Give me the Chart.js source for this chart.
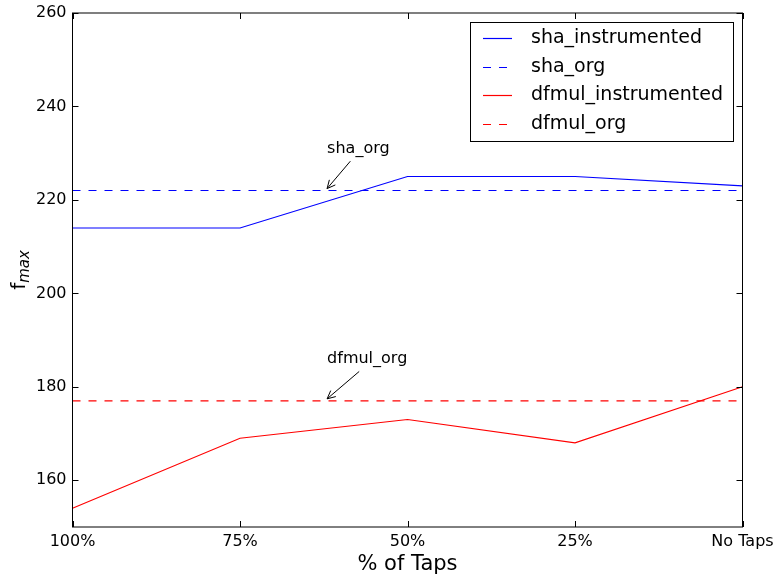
<!DOCTYPE html>
<html>
<head>
<meta charset="utf-8">
<script src="https://cdn.jsdelivr.net/npm/chart.js@4"></script>
<style>
  body { margin: 0; background: #fff; }
  #wrap { width: 775px; height: 576px; }
</style>
</head>
<body>
<div id="wrap"><canvas id="fmaxChart"></canvas></div>
<script>
const taps = ["100%", "75%", "50%", "25%", "No Taps"];
const shaInstrumented = [214, 214, 225, 225, 223];
const shaOrg = [222, 222, 222, 222, 222];
const dfmulInstrumented = [154, 169, 173, 168, 180];
const dfmulOrg = [177, 177, 177, 177, 177];
const yTicks = [160, 180, 200, 220, 240, 260];

const FONT = "'DejaVu Sans', sans-serif";

function points(values) {
    return values.map((v, i) => ({ x: i, y: v }));
}

// annotations: text position and arrow target, in data coordinates
const notes = [
    { text: "sha_org", tx: 1.52, ty: 230, ax: 1.52, ay: 222 },
    { text: "dfmul_org", tx: 1.52, ty: 185, ax: 1.52, ay: 177 }
];

const decorations = {
    id: "decorations",
    afterDraw(chart) {
        const ctx = chart.ctx;
        const a = chart.chartArea;
        const xs = chart.scales.x;
        const ys = chart.scales.y;
        ctx.save();
        ctx.strokeStyle = "#000";
        ctx.lineWidth = 1;
        // frame
        ctx.strokeRect(a.left, a.top, a.right - a.left, a.bottom - a.top);
        // inward ticks
        ctx.beginPath();
        yTicks.forEach(t => {
            const y = Math.round(ys.getPixelForValue(t)) + 0.5;
            ctx.moveTo(a.left, y); ctx.lineTo(a.left + 6, y);
            ctx.moveTo(a.right, y); ctx.lineTo(a.right - 6, y);
        });
        taps.forEach((t, i) => {
            const x = Math.round(xs.getPixelForValue(i)) + 0.5;
            ctx.moveTo(x, a.bottom); ctx.lineTo(x, a.bottom - 6);
            ctx.moveTo(x, a.top); ctx.lineTo(x, a.top + 6);
        });
        ctx.stroke();

        // annotations
        ctx.font = "16px " + FONT;
        ctx.fillStyle = "#000";
        ctx.textAlign = "left";
        ctx.textBaseline = "alphabetic";
        notes.forEach(n => {
            const tx = xs.getPixelForValue(n.tx);
            const ty = ys.getPixelForValue(n.ty);
            ctx.fillText(n.text, tx, ty);
            const w = ctx.measureText(n.text).width;
            const sx = tx + w / 2 - 8;
            const sy = ty + 8;
            const ex = xs.getPixelForValue(n.ax);
            const ey = ys.getPixelForValue(n.ay) - 2;
            ctx.beginPath();
            ctx.moveTo(sx, sy);
            ctx.lineTo(ex, ey);
            ctx.stroke();
            const ang = Math.atan2(ey - sy, ex - sx);
            const hl = 9;
            ctx.beginPath();
            ctx.moveTo(ex - hl * Math.cos(ang - 0.45), ey - hl * Math.sin(ang - 0.45));
            ctx.lineTo(ex, ey);
            ctx.lineTo(ex - hl * Math.cos(ang + 0.45), ey - hl * Math.sin(ang + 0.45));
            ctx.stroke();
        });

        // legend
        const lx = 470.5, ly = 22.5, lw = 263, lh = 119;
        ctx.fillStyle = "#fff";
        ctx.fillRect(lx, ly, lw, lh);
        ctx.strokeStyle = "#000";
        ctx.strokeRect(lx, ly, lw, lh);
        ctx.font = "19px " + FONT;
        ctx.textBaseline = "middle";
        chart.data.datasets.forEach((ds, i) => {
            const y = Math.round(38 + i * 28.5) + 0.5;
            ctx.lineWidth = 1.2;
            ctx.strokeStyle = ds.borderColor;
            ctx.setLineDash(ds.borderDash || []);
            ctx.beginPath();
            ctx.moveTo(483, y);
            ctx.lineTo(512, y);
            ctx.stroke();
            ctx.setLineDash([]);
            ctx.fillStyle = "#000";
            ctx.fillText(ds.label, 531, y);
        });

        // axis titles
        ctx.fillStyle = "#000";
        ctx.textAlign = "center";
        ctx.textBaseline = "alphabetic";
        ctx.font = "21px " + FONT;
        ctx.fillText("% of Taps", (a.left + a.right) / 2, 570);

        ctx.translate(25, (a.top + a.bottom) / 2);
        ctx.rotate(-Math.PI / 2);
        ctx.textAlign = "left";
        ctx.font = "20px " + FONT;
        const fw = ctx.measureText("f").width;
        ctx.font = "italic 15px " + FONT;
        const mw = ctx.measureText("max").width;
        const start = -(fw + mw) / 2;
        ctx.font = "20px " + FONT;
        ctx.fillText("f", start, 0);
        ctx.font = "italic 15px " + FONT;
        ctx.fillText("max", start + fw, 4);
        ctx.restore();
    }
};

new Chart("fmaxChart", {
    type: "line",
    data: {
        datasets: [
            { label: "sha_instrumented", data: points(shaInstrumented), borderColor: "#0000ff" },
            { label: "sha_org", data: points(shaOrg), borderColor: "#0000ff", borderDash: [8, 8] },
            { label: "dfmul_instrumented", data: points(dfmulInstrumented), borderColor: "#ff0000" },
            { label: "dfmul_org", data: points(dfmulOrg), borderColor: "#ff0000", borderDash: [8, 8] }
        ]
    },
    options: {
        responsive: true,
        maintainAspectRatio: false,
        animation: false,
        elements: {
            line: { borderWidth: 1.1, tension: 0, fill: false },
            point: { radius: 0, hoverRadius: 0 }
        },
        layout: { padding: { left: 0, right: 32.5, top: 13, bottom: 0 } },
        plugins: { legend: { display: false }, tooltip: { enabled: false } },
        scales: {
            x: {
                type: "linear",
                min: 0,
                max: taps.length - 1,
                afterBuildTicks: s => { s.ticks = taps.map((t, i) => ({ value: i })); },
                afterFit: s => {
                    s.height = 49;
                    s.paddingLeft = 0;
                    s.paddingRight = 0;
                },
                grid: { display: false, drawTicks: false, tickLength: 0 },
                border: { display: false },
                ticks: {
                    callback: v => taps[v],
                    color: "#000",
                    font: { family: FONT, size: 16 },
                    padding: 5,
                    maxRotation: 0,
                    autoSkip: false
                }
            },
            y: {
                min: 150,
                max: 260,
                afterBuildTicks: s => { s.ticks = yTicks.map(v => ({ value: v })); },
                afterFit: s => {
                    s.width = 72.5;
                    s.paddingTop = 0;
                    s.paddingBottom = 0;
                },
                grid: { display: false, drawTicks: false, tickLength: 0 },
                border: { display: false },
                ticks: {
                    color: "#000",
                    font: { family: FONT, size: 16 },
                    padding: 6
                }
            }
        }
    },
    plugins: [decorations]
});
</script>
</body>
</html>
